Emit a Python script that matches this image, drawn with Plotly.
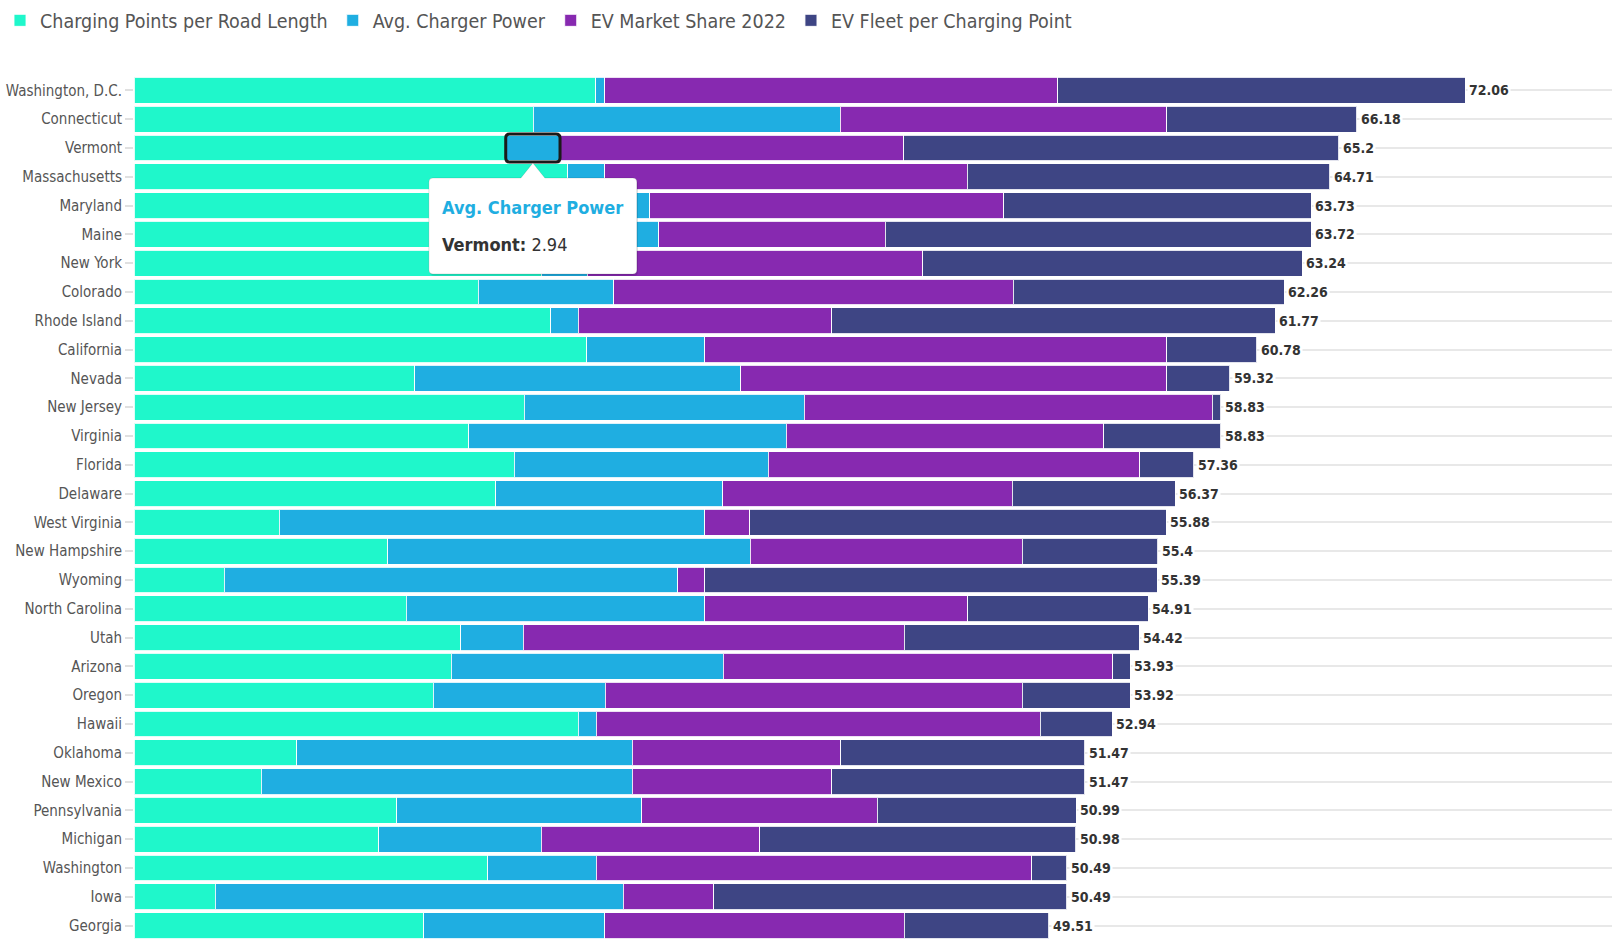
import plotly.graph_objects as go

# ---------------- data ----------------
states = ["Washington, D.C.", "Connecticut", "Vermont", "Massachusetts", "Maryland",
          "Maine", "New York", "Colorado", "Rhode Island", "California", "Nevada",
          "New Jersey", "Virginia", "Florida", "Delaware", "West Virginia",
          "New Hampshire", "Wyoming", "North Carolina", "Utah", "Arizona", "Oregon",
          "Hawaii", "Oklahoma", "New Mexico", "Pennsylvania", "Michigan",
          "Washington", "Iowa", "Georgia"]

charging_points = [24.98, 21.61, 20.12, 23.49, 26.00, 26.50, 22.05, 18.62, 22.55, 24.51,
                   15.20, 21.11, 18.13, 20.59, 19.59, 7.85, 13.73, 4.89, 14.73, 17.68,
                   17.16, 16.19, 24.04, 8.81, 6.88, 14.23, 13.24, 19.15, 4.39, 15.69]

charger_power = [0.50, 16.61, 2.94, 1.99, 1.91, 1.91, 2.49, 7.35, 1.49, 6.38,
                 17.64, 15.17, 17.18, 13.73, 12.27, 23.04, 19.62, 24.54, 16.16, 3.40,
                 14.73, 9.31, 0.97, 18.16, 20.09, 13.24, 8.81, 5.86, 22.08, 9.79]

market_share = [24.53, 17.68, 18.61, 19.62, 19.17, 12.26, 18.15, 21.61, 13.73, 25.01,
                23.07, 22.08, 17.19, 20.12, 15.69, 2.45, 14.73, 1.46, 14.23, 20.62,
                21.08, 22.58, 24.04, 11.28, 10.80, 12.76, 11.82, 23.57, 4.90, 16.22]

fleet_per_point = [22.05, 10.28, 23.53, 19.61, 16.65, 23.05, 20.55, 14.68, 24.00, 4.88,
                   3.41, 0.47, 6.33, 2.92, 8.82, 22.54, 7.32, 24.50, 9.79, 12.72,
                   0.96, 5.84, 3.89, 13.22, 13.70, 10.76, 17.11, 1.91, 19.12, 7.81]

totals = [72.06, 66.18, 65.2, 64.71, 63.73, 63.72, 63.24, 62.26, 61.77, 60.78,
          59.32, 58.83, 58.83, 57.36, 56.37, 55.88, 55.4, 55.39, 54.91, 54.42,
          53.93, 53.92, 52.94, 51.47, 51.47, 50.99, 50.98, 50.49, 50.49, 49.51]

series_names = ["Charging Points per Road Length", "Avg. Charger Power",
                "EV Market Share 2022", "EV Fleet per Charging Point"]
series_values = [charging_points, charger_power, market_share, fleet_per_point]
series_colors = ["#1FF7CB", "#1FAEE1", "#8729B0", "#3E4584"]

hover_state = "Vermont"
hover_series = 1

# ---------------- figure ----------------
FONT = "Liberation Sans Narrow, DejaVu Sans Condensed, Arial Narrow, sans-serif"

fig = go.Figure()
for name, vals, col in zip(series_names, series_values, series_colors):
    fig.add_trace(go.Bar(
        y=states, x=vals, name=name, orientation="h",
        marker=dict(color=col, line=dict(color="rgba(255,255,255,0.85)", width=1)),
        hovertemplate="<b>" + name + "</b><br>%{y}: %{x}<extra></extra>",
    ))

# total labels at the end of each stack
for st, tot in zip(states, totals):
    fig.add_annotation(
        x=tot, y=st, xref="x", yref="y", text=f"{tot:g}", showarrow=False,
        xanchor="left", xshift=2, bgcolor="white", borderpad=1,
        font=dict(family=FONT, size=14, color="#333333", weight="bold"),
    )

# hover highlight (outline around the hovered segment)
hi = states.index(hover_state)
sx0 = sum(v[hi] for v in series_values[:hover_series])
sx1 = sx0 + series_values[hover_series][hi]
r = 0.22
outline = (f"M{sx0 + r},14 L{sx1 - r},14 Q{sx1},14 {sx1},10 L{sx1},-10 "
           f"Q{sx1},-14 {sx1 - r},-14 L{sx0 + r},-14 Q{sx0},-14 {sx0},-10 "
           f"L{sx0},10 Q{sx0},14 {sx0 + r},14 Z")
fig.add_shape(type="path", path=outline, xref="x", yref="y",
              ysizemode="pixel", yanchor=hi,
              line=dict(color="#1a1a1a", width=3), layer="above")

# tooltip box with arrow
cx = (sx0 + sx1) / 2
tip = ("M-100,-30 L-12,-30 L0,-15 L12,-30 L100,-30 Q104,-30 104,-34 L104,-122 "
       "Q104,-126 100,-126 L-100,-126 Q-104,-126 -104,-122 L-104,-34 Q-104,-30 -100,-30 Z")
shadow = ("M-99,-32 L99,-32 Q105,-32 105,-36 L105,-124 Q105,-128 101,-128 "
          "L-99,-128 Q-103,-128 -103,-124 L-103,-36 Q-103,-32 -99,-32 Z")
fig.add_shape(type="path", path=shadow, xref="x", yref="y",
              xsizemode="pixel", xanchor=cx, ysizemode="pixel", yanchor=hi,
              fillcolor="rgba(0,0,0,0.10)", line=dict(width=0), layer="above")
fig.add_shape(type="path", path=tip, xref="x", yref="y",
              xsizemode="pixel", xanchor=cx, ysizemode="pixel", yanchor=hi,
              fillcolor="white", line=dict(color="rgba(0,0,0,0.12)", width=1), layer="above")

fig.add_annotation(x=cx, y=hover_state, xref="x", yref="y", showarrow=False,
                   xanchor="left", yanchor="middle", xshift=-93, yshift=-59,
                   text="<b>" + series_names[hover_series] + "</b>",
                   font=dict(family=FONT, size=18, color=series_colors[hover_series]))
fig.add_annotation(x=cx, y=hover_state, xref="x", yref="y", showarrow=False,
                   xanchor="left", yanchor="middle", xshift=-93, yshift=-96,
                   text=f"<b>{hover_state}:</b> {series_values[hover_series][hi]:g}",
                   font=dict(family=FONT, size=18, color="#333333"))

fig.update_layout(
    width=1616, height=940,
    barmode="stack", bargap=0.1,
    plot_bgcolor="white", paper_bgcolor="white",
    margin=dict(l=134, r=4, t=76, b=0, autoexpand=False),
    font=dict(family=FONT, color="#555555"),
    showlegend=True,
    legend=dict(orientation="h", xref="container", yref="container",
                x=-0.002, y=0.978, xanchor="left", yanchor="middle",
                itemwidth=30, tracegroupgap=0,
                font=dict(family=FONT, size=19.5, color="#555555"),
                traceorder="normal", itemclick=False),
    xaxis=dict(range=[0, 80], showgrid=False, zeroline=False, showticklabels=False,
               showline=False),
    yaxis=dict(type="category", categoryorder="array", categoryarray=states,
               range=[len(states) - 0.5, -0.5], showgrid=True, gridcolor="#e8e8e8",
               gridwidth=2, ticks="outside", ticklen=8, tickcolor="#e0e0e0", tickwidth=2,
               tickfont=dict(family=FONT, size=15, color="#555555"), showline=False,
               zeroline=False, automargin=False),
)

fig.write_html("out.html", config={"displayModeBar": False},
               post_script="document.body.style.margin='0px';")
